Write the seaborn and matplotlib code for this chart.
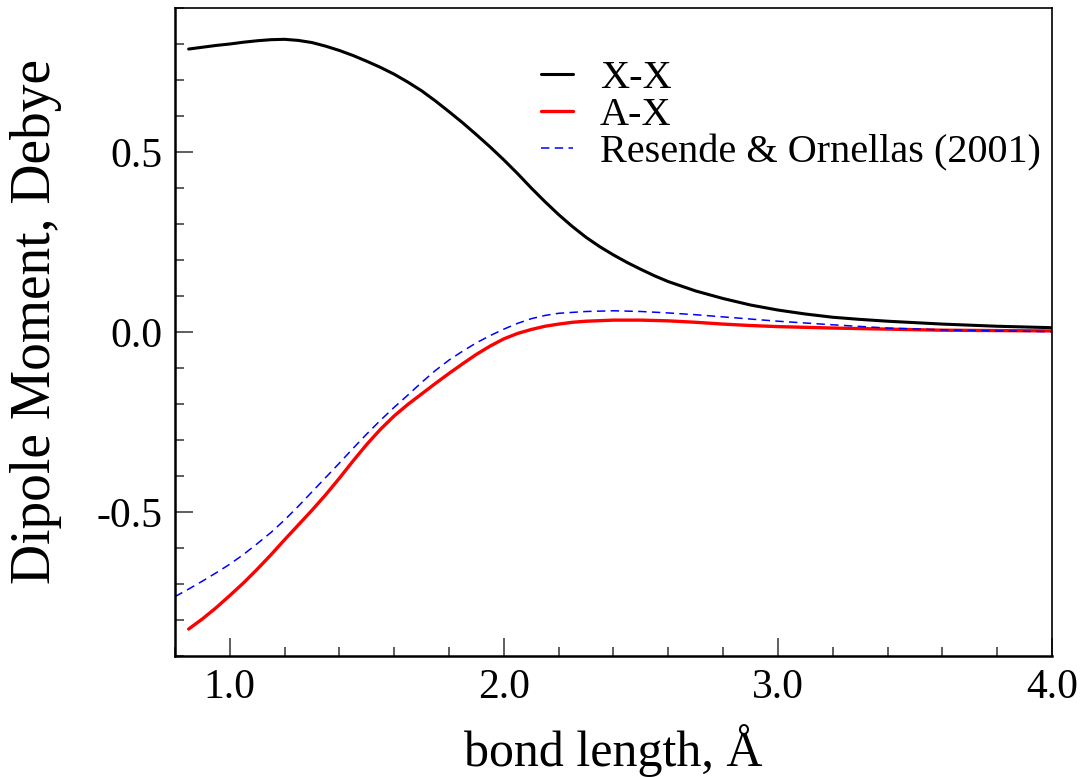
#dipole moment curves for X-X and A-X, with Resende & Ornellas (2001) for comparison

#import packages
import pandas as pd
import numpy as np
import matplotlib
matplotlib.use("Agg")
from matplotlib import pyplot as plt
from matplotlib.ticker import MultipleLocator, FormatStrFormatter
import seaborn as sns

#values
r_xx = [0.85, 0.9, 0.95, 1.0, 1.05, 1.1, 1.15, 1.2, 1.25, 1.3, 1.35, 1.4, 1.45, 1.5,
        1.55, 1.6, 1.65, 1.7, 1.75, 1.8, 1.85, 1.9, 1.95, 2.0, 2.05, 2.1, 2.15, 2.2,
        2.25, 2.3, 2.35, 2.4, 2.45, 2.5, 2.55, 2.6, 2.7, 2.8, 2.9, 3.0, 3.1, 3.2, 3.3,
        3.4, 3.6, 3.8, 4.0]
mu_xx = [0.786, 0.791, 0.796, 0.800, 0.805, 0.809, 0.812, 0.813, 0.810, 0.804, 0.794,
         0.782, 0.768, 0.752, 0.735, 0.716, 0.694, 0.670, 0.642, 0.612, 0.581, 0.548,
         0.514, 0.478, 0.440, 0.400, 0.362, 0.326, 0.293, 0.263, 0.237, 0.214, 0.193,
         0.174, 0.156, 0.140, 0.114, 0.093, 0.075, 0.061, 0.050, 0.041, 0.035, 0.030,
         0.022, 0.016, 0.012]

r_ax = [0.85, 0.9, 0.95, 1.0, 1.05, 1.1, 1.15, 1.2, 1.25, 1.3, 1.35, 1.4, 1.45, 1.5,
        1.55, 1.6, 1.65, 1.7, 1.75, 1.8, 1.85, 1.9, 1.95, 2.0, 2.05, 2.1, 2.15, 2.2,
        2.25, 2.3, 2.4, 2.5, 2.6, 2.7, 2.8, 2.9, 3.0, 3.2, 3.4, 3.6, 3.8, 4.0]
mu_ax = [-0.825, -0.797, -0.766, -0.732, -0.697, -0.659, -0.619, -0.577, -0.536, -0.495,
         -0.452, -0.406, -0.358, -0.312, -0.270, -0.233, -0.201, -0.172, -0.143, -0.115,
         -0.088, -0.062, -0.039, -0.019, -0.004, 0.007, 0.016, 0.022, 0.027, 0.030,
         0.033, 0.033, 0.031, 0.027, 0.022, 0.018, 0.015, 0.011, 0.008, 0.005, 0.004,
         0.003]

r_ro = [0.8, 0.85, 0.9, 0.95, 1.0, 1.05, 1.1, 1.15, 1.2, 1.25, 1.3, 1.35, 1.4, 1.45,
        1.5, 1.55, 1.6, 1.65, 1.7, 1.75, 1.8, 1.85, 1.9, 1.95, 2.0, 2.05, 2.1, 2.15,
        2.2, 2.3, 2.4, 2.5, 2.6, 2.7, 2.8, 2.9, 3.0, 3.2, 3.4, 3.6, 3.8, 4.0]
mu_ro = [-0.735, -0.714, -0.692, -0.669, -0.645, -0.618, -0.588, -0.557, -0.522, -0.484,
         -0.444, -0.404, -0.364, -0.323, -0.283, -0.245, -0.209, -0.175, -0.140, -0.107,
         -0.078, -0.053, -0.030, -0.010, 0.008, 0.024, 0.037, 0.046, 0.052, 0.057,
         0.059, 0.057, 0.053, 0.048, 0.042, 0.036, 0.030, 0.020, 0.011, 0.006, 0.003,
         0.001]

labels = ["X-X", "A-X", "Resende & Ornellas (2001)"]
colors = ["black", "red", "blue"]

#style
sns.set_style("ticks")
plt.rcParams['font.family'] = ['Liberation Serif', 'DejaVu Serif']
plt.rcParams['axes.unicode_minus'] = False
plt.rcParams['text.color'] = 'black'
plt.rcParams['axes.labelcolor'] = 'black'
plt.rcParams['xtick.labelcolor'] = 'black'
plt.rcParams['ytick.labelcolor'] = 'black'
plt.rcParams['axes.edgecolor'] = 'black'

fig = plt.figure(figsize=(10.84, 7.77), dpi=100)
ax = fig.add_axes([0.1614, 0.1557, 0.8091, 0.834])

#the three curves
sns.lineplot(x=r_xx, y=mu_xx, color=colors[0], lw=2.2, label=labels[0], ax=ax)
sns.lineplot(x=r_ax, y=mu_ax, color=colors[1], lw=2.4, label=labels[1], ax=ax)
sns.lineplot(x=r_ro, y=mu_ro, color=colors[2], lw=1.1, linestyle=(0, (5.5, 3.5)),
             label=labels[2], ax=ax)

#axes limits and ticks
ax.set_xlim(0.8, 4.0)
ax.set_ylim(-0.9, 0.9)
ax.xaxis.set_major_locator(MultipleLocator(1.0))
ax.xaxis.set_minor_locator(MultipleLocator(0.2))
ax.yaxis.set_major_locator(MultipleLocator(0.5))
ax.yaxis.set_minor_locator(MultipleLocator(0.1))
ax.xaxis.set_major_formatter(FormatStrFormatter('%.1f'))
ax.yaxis.set_major_formatter(FormatStrFormatter('%.1f'))
ax.tick_params(which='major', direction='in', length=13, width=1.1, color='#333333',
               labelcolor='black', labelsize=30, pad=9, top=False, right=False)
ax.tick_params(which='minor', direction='in', length=6.5, width=1.1, color='#333333',
               top=False, right=False)

for side in ['left', 'bottom']:
    ax.spines[side].set_linewidth(1.8)
for side in ['top', 'right']:
    ax.spines[side].set_linewidth(1.2)

ax.set_xlabel('bond length, Å', fontsize=36, labelpad=12, color='black')
ax.set_ylabel('Dipole Moment, Debye', fontsize=40, color='black')
ax.yaxis.set_label_coords(-0.129, 0.516)

leg = ax.legend(loc='upper left', bbox_to_anchor=(0.417, 0.92), frameon=False, fontsize=29,
                handlelength=0.8, handletextpad=0.67, labelspacing=0.0, borderpad=0,
                borderaxespad=0)
for t in leg.get_texts():
    t.set_color('black')

fig.savefig('out.png', dpi=100)
